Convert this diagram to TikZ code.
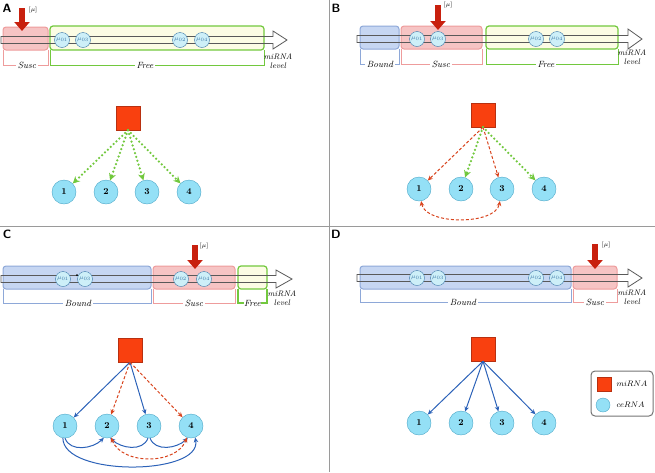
\documentclass[tikz,border=0pt]{standalone}
\usetikzlibrary{arrows.meta}
\definecolor{suscfill}{HTML}{F6C4C4}
\definecolor{suscline}{HTML}{EE9C9C}
\definecolor{boundfill}{HTML}{C6D6F2}
\definecolor{boundline}{HTML}{8EA8D8}
\definecolor{freeline}{HTML}{72C83E}
\definecolor{freefill}{HTML}{FCFCE4}
\definecolor{cefill}{HTML}{94E0F6}
\definecolor{celine}{HTML}{4CA6C6}
\definecolor{mufill}{HTML}{CDEFF8}
\definecolor{muline}{HTML}{3C78A8}
\definecolor{mirfill}{HTML}{F9400F}
\definecolor{mirline}{HTML}{B83010}
\definecolor{dosered}{HTML}{C8200E}
\definecolor{titrred}{HTML}{D8441E}
\definecolor{bondblue}{HTML}{2C62B8}
\definecolor{panelgray}{HTML}{9A9A9A}
\begin{document}
\begin{tikzpicture}[
    x=1pt, y=1pt,
    >={Stealth[length=5pt,width=4.5pt]},
    mir/.style={draw=mirline, fill=mirfill, minimum size=24pt, inner sep=0pt},
    ce/.style={circle, draw=celine, fill=cefill, minimum size=24pt, inner sep=0pt, font=\small\bfseries},
    mu/.style={circle, draw=muline, fill=mufill, minimum size=15pt, inner sep=0pt, text=muline, font=\fontsize{6.5}{6.5}\selectfont},
    suscbox/.style={rounded corners=3pt, draw=suscline, fill=suscfill, line width=1pt},
    boundbox/.style={rounded corners=3pt, draw=boundline, fill=boundfill, line width=1pt},
    freebox/.style={rounded corners=3pt, draw=freeline, fill=freefill, line width=1.2pt},
    brk/.style={line width=0.9pt},
    tag/.style={fill=white, inner sep=1.5pt, font=\small\itshape},
    lvl/.style={draw=black!65, line width=0.8pt},
    lvltext/.style={align=center, inner sep=0pt, font=\footnotesize\itshape},
    push/.style={dosered, line width=5.5pt, -{Triangle[width=15pt,length=9pt]}},
    dose/.style={inner sep=0pt, font=\fontsize{6.5}{6.5}\selectfont},
    panel/.style={font=\sffamily\bfseries\fontsize{12}{12}\selectfont},
    unbound/.style={freeline, line width=2.5pt, dash pattern=on 0pt off 4pt, line cap=round, -{Stealth[length=7pt,width=7pt]}},
    titr/.style={titrred, line width=1pt, dash pattern=on 3pt off 2pt, ->},
    bond/.style={bondblue, line width=1pt, ->}
    ]
\useasboundingbox (0,0) rectangle (655,-472);
% panel frames
\draw[panelgray, line width=1pt] (329.5,0) -- (329.5,-472);
\draw[panelgray, line width=1pt] (0,-226) -- (655,-226);

% ---------------- A
\node[panel] (pA) at (7,-8.5) {A};
\draw[suscbox] (3,-27) rectangle (48,-50);
\draw[freebox] (50,-26) rectangle (264,-50);
\draw[suscline, brk] (3,-50) -- (3,-65) -- (48,-65) -- (48,-50);
\draw[freeline, brk] (50,-50) -- (50,-65) -- (264,-65) -- (264,-50);
\node[tag] (tAs) at (27,-65) {Susc};
\node[tag] (tAf) at (145,-65) {Free};
\draw[lvl] (1,-36.5) -- (273,-36.5) -- (273,-31) -- (287,-40) -- (273,-49) -- (273,-43.5) -- (1,-43.5) -- cycle;
\node[mu] (muA1) at (62,-40) {$\mu_{01}$};
\node[mu] (muA3) at (83,-40) {$\mu_{03}$};
\node[mu] (muA2) at (180,-40) {$\mu_{02}$};
\node[mu] (muA4) at (202,-40) {$\mu_{04}$};
\draw[push] (22,-8) -- (22,-31);
\node[dose] (dA) at (33,-10) {$[\mu]$};
\node[lvltext] (lA) at (278,-61) {miRNA\\level};
\node[mir] (mA) at (128,-118) {};
\node[ce] (a1) at (64,-192) {1};
\node[ce] (a2) at (106,-192) {2};
\node[ce] (a3) at (147,-192) {3};
\node[ce] (a4) at (189,-192) {4};
\draw[unbound] (mA.south) -- (a1);
\draw[unbound] (mA.south) -- (a2);
\draw[unbound] (mA.south) -- (a3);
\draw[unbound] (mA.south) -- (a4);

% ---------------- B
\node[panel] (pB) at (336,-8.5) {B};
\draw[boundbox] (360,-26) rectangle (399,-49);
\draw[suscbox] (401,-26) rectangle (482,-49);
\draw[freebox] (486,-26) rectangle (618,-49);
\draw[boundline, brk] (360,-49) -- (360,-64) -- (399,-64) -- (399,-49);
\draw[suscline, brk] (401,-49) -- (401,-64) -- (482,-64) -- (482,-49);
\draw[freeline, brk] (486,-49) -- (486,-64) -- (618,-64) -- (618,-49);
\node[tag] (tBb) at (380,-64) {Bound};
\node[tag] (tBs) at (441,-64) {Susc};
\node[tag] (tBf) at (546,-64) {Free};
\draw[lvl] (357,-35.5) -- (628,-35.5) -- (628,-29) -- (642,-39) -- (628,-49) -- (628,-42.5) -- (357,-42.5) -- cycle;
\node[mu] (muB1) at (417,-39) {$\mu_{01}$};
\node[mu] (muB3) at (438,-39) {$\mu_{03}$};
\node[mu] (muB2) at (536,-39) {$\mu_{02}$};
\node[mu] (muB4) at (557,-39) {$\mu_{04}$};
\draw[push] (438,-5) -- (438,-30);
\node[dose] (dB) at (448,-5) {$[\mu]$};
\node[lvltext] (lB) at (632,-57) {miRNA\\level};
\node[mir] (mB) at (483,-115) {};
\node[ce] (b1) at (419,-189) {1};
\node[ce] (b2) at (461,-189) {2};
\node[ce] (b3) at (502,-189) {3};
\node[ce] (b4) at (544,-189) {4};
\draw[titr] (mB.south) -- (b1);
\draw[unbound] (mB.south) -- (b2);
\draw[titr] (mB.south) -- (b3);
\draw[unbound] (mB.south) -- (b4);
\draw[titr, <->] (b1.-80) to[out=-80, in=-100, looseness=0.8] (b3.-100);

% ---------------- C
\node[panel] (pC) at (7,-234.5) {C};
\draw[boundbox] (3,-266) rectangle (151,-289);
\draw[suscbox] (153,-266) rectangle (235,-289);
\draw[freebox] (238,-266) rectangle (267,-289);
\draw[boundline, brk] (3,-289) -- (3,-303) -- (151,-303) -- (151,-289);
\draw[suscline, brk] (153,-289) -- (153,-303) -- (235,-303) -- (235,-289);
\draw[freeline, line width=1.4pt] (238,-289) -- (238,-303) -- (267,-303) -- (267,-289);
\node[tag] (tCb) at (78,-303) {Bound};
\node[tag] (tCs) at (194,-303) {Susc};
\node[tag, inner sep=0.5pt] (tCf) at (252.5,-303) {Free};
\draw[lvl] (1,-275.5) -- (276,-275.5) -- (276,-270) -- (292,-279) -- (276,-288) -- (276,-282.5) -- (1,-282.5) -- cycle;
\node[mu] (muC1) at (63,-279) {$\mu_{01}$};
\node[mu] (muC3) at (85,-279) {$\mu_{03}$};
\node[mu] (muC2) at (181,-279) {$\mu_{02}$};
\node[mu] (muC4) at (204,-279) {$\mu_{04}$};
\fill (77,-275) circle (1);
\draw[push] (195,-245) -- (195,-269);
\node[dose] (dC) at (204,-246) {$[\mu]$};
\node[lvltext] (lC) at (282,-298) {miRNA\\level};
\node[mir] (mC) at (130,-350) {};
\node[ce] (c1) at (65,-426) {1};
\node[ce] (c2) at (107,-426) {2};
\node[ce] (c3) at (149,-426) {3};
\node[ce] (c4) at (191,-426) {4};
\draw[bond] (mC.south) -- (c1);
\draw[titr] (mC.south) -- (c2);
\draw[bond] (mC.south) -- (c3);
\draw[titr] (mC.south) -- (c4);
\draw[bond] (c1.-90) to[out=-70, in=-135] (c2.-105);
\draw[bond] (c3.-95) to[out=-110, in=-45] (c2.-75);
\draw[bond] (c3.-85) to[out=-70, in=-135] (c4.-105);
\draw[bond] (c1.-100) to[out=-90, in=-80, looseness=0.75] (c4.-70);
\draw[titr, <->] (c2.-70) to[out=-70, in=-110] (c4.-110);

% ---------------- D
\node[panel] (pD) at (336,-234.5) {D};
\draw[boundbox] (360,-266) rectangle (571,-289);
\draw[suscbox] (573,-266) rectangle (617,-289);
\draw[boundline, brk] (360,-289) -- (360,-302) -- (571,-302) -- (571,-289);
\draw[suscline, brk] (573,-289) -- (573,-302) -- (617,-302) -- (617,-289);
\node[tag] (tDb) at (463,-302) {Bound};
\node[tag] (tDs) at (595,-302) {Susc};
\draw[lvl] (357,-274.5) -- (628,-274.5) -- (628,-269) -- (642,-278) -- (628,-287) -- (628,-281.5) -- (357,-281.5) -- cycle;
\node[mu] (muD1) at (417,-278) {$\mu_{01}$};
\node[mu] (muD3) at (438,-278) {$\mu_{03}$};
\node[mu] (muD2) at (536,-278) {$\mu_{02}$};
\node[mu] (muD4) at (557,-278) {$\mu_{04}$};
\draw[push] (595,-244) -- (595,-269);
\node[dose] (dD) at (606,-245) {$[\mu]$};
\node[lvltext] (lD) at (632,-297) {miRNA\\level};
\node[mir] (mD) at (483,-349) {};
\node[ce] (d1) at (419,-423) {1};
\node[ce] (d2) at (461,-423) {2};
\node[ce] (d3) at (502,-423) {3};
\node[ce] (d4) at (544,-423) {4};
\draw[bond] (mD.south) -- (d1);
\draw[bond] (mD.south) -- (d2);
\draw[bond] (mD.south) -- (d3);
\draw[bond] (mD.south) -- (d4);

% legend
\node[draw=black!55, line width=1pt, rounded corners=4pt, minimum width=62pt, minimum height=45pt] (key) at (622,-393.5) {};
\node[mir, minimum size=14pt] (keymir) at (604,-384) {};
\node[anchor=west, font=\footnotesize] (keymirt) at (613,-384) {$miRNA$};
\node[ce, minimum size=14pt] (keyce) at (603,-405) {};
\node[anchor=west, font=\footnotesize] (keycet) at (613,-405) {$ceRNA$};
\end{tikzpicture}
\end{document}
